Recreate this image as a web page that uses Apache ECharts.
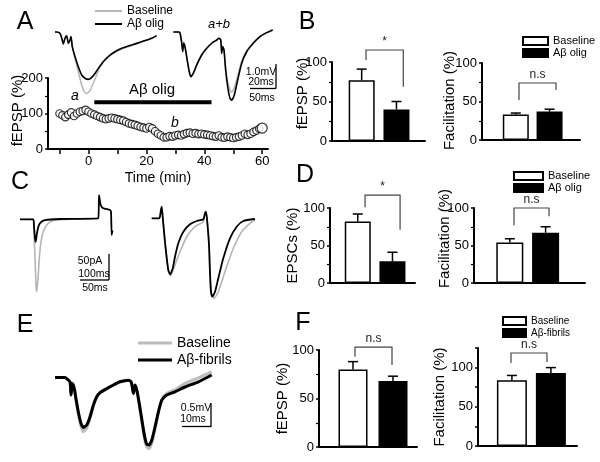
<!DOCTYPE html>
<html><head><meta charset="utf-8">
<script src="https://cdn.jsdelivr.net/npm/echarts@6/dist/echarts.min.js"></script>
<style>html,body{margin:0;padding:0;background:#fff}#c{width:600px;height:462px}</style>
</head><body><div id="c"></div><script>
const FONT = '"Liberation Sans", Arial, Helvetica, sans-serif';

// ---------- Panel A: time course (min, % fEPSP) ----------
const timeMin = [-10,-9,-8,-7,-6,-5,-4,-3,-2,-1,0,1,2,3,4,5,6,7,8,9,10,11,12,13,14,15,16,17,18,19,20,21,22,23,24,25,26,27,28,29,30,31,32,33,34,35,36,37,38,39,40,41,42,43,44,45,46,47,48,49,50,51,52,53,54,55,56,57,58,59,60];
const fepspPct = [100,95,90,97,103,93,100,105,107,110,
                  105,100,97,93,90,86,84,86,88,86,
                  84,82,80,76,72,70,68,65,62,60,
                  58,62,58,50,43,38,33,33,36,35,
                  38,40,38,42,45,46,43,45,42,43,
                  41,40,38,36,35,38,33,32,35,33,
                  31,33,35,38,43,40,43,48,52,57,59];
const abetaPeriod = [2, 42.5];   // min, application bar
const abetaBarLevel = 132;       // % level of the bar

// ---------- Panel A traces (ms, mV) ----------
const traceA1Gray = [[4.2,0],[5.6,0],[8.3,-0.06],[9.8,-0.27],[11.1,-0.52],[12.5,-0.27],[13.9,-0.17],[15.3,-0.49],[16.7,-0.35],[17.5,-0.2],[18.6,-0.67],[20.8,-1.13],[23.6,-1.73],[26.4,-2.3],[28.6,-2.6],[30.6,-2.67],[33.3,-2.55],[36.1,-2.23],[38.9,-1.87],[41.7,-1.51],[45.8,-1.22],[51.4,-0.93],[59.8,-0.74],[68.1,-0.59],[76.4,-0.43],[84.8,-0.28],[88.9,-0.17]];
const traceA1Black = [[4.2,0],[5.6,0],[8.3,-0.06],[9.8,-0.27],[11.1,-0.52],[12.5,-0.27],[13.9,-0.17],[15.3,-0.49],[16.7,-0.35],[17.5,-0.2],[18.6,-0.64],[20.8,-1.07],[23.6,-1.51],[26.4,-1.87],[29.2,-2.01],[31.9,-2.06],[34.8,-1.97],[37.5,-1.8],[40.3,-1.58],[44.4,-1.29],[48.6,-1.07],[54.2,-0.86],[59.8,-0.71],[68.1,-0.57],[76.4,-0.42],[84.8,-0.27],[88.9,-0.16]];
const traceABGray = [[102.8,0],[106.9,0],[108.3,-0.03],[109.8,-0.4],[110.6,-0.8],[111.4,-0.45],[112.5,-0.62],[113.9,-1.07],[115.8,-1.65],[117.3,-1.94],[119.4,-1.8],[122.3,-1.43],[126.4,-1.0],[130.6,-0.71],[134.8,-0.49],[138.9,-0.35],[140.8,-0.27],[142.3,-0.3],[143.1,-0.85],[143.9,-0.6],[145,-0.75],[146.4,-1.6],[148.1,-2.17],[150,-2.52],[151.4,-2.61],[153.6,-2.43],[156.4,-1.91],[159.8,-1.26],[163.9,-0.82],[169.4,-0.47],[175,-0.2],[180.6,-0.03],[185.6,0.09]];
const traceABBlack = [[102.8,0],[106.9,0],[108.3,-0.03],[109.8,-0.49],[110.6,-0.86],[111.4,-0.49],[112.5,-0.64],[113.9,-1.07],[115.8,-1.65],[117.3,-1.94],[119.4,-1.8],[122.3,-1.43],[126.4,-1.0],[130.6,-0.71],[134.8,-0.49],[138.9,-0.35],[140.8,-0.27],[142.3,-0.35],[143.1,-0.93],[143.9,-0.64],[145,-0.78],[146.4,-1.65],[148.1,-2.38],[150,-2.88],[151.4,-2.96],[153.6,-2.74],[156.4,-2.09],[159.8,-1.36],[163.9,-0.86],[169.4,-0.49],[175,-0.2],[180.6,-0.03],[185.6,0.09]];

// ---------- Panel C traces (ms, pA) ----------
const traceC1Gray = [[16.7,-1.7],[61,-1.7],[63.3,-28.7],[66.7,-86.5],[70,-144.6],[72.3,-159.1],[76.7,-130],[81,-86.5],[86.7,-50.4],[94.3,-28.7],[105.7,-14.1],[122.3,-5.4],[150,-2.6],[276.7,0]];
const traceC1Black = [[16.7,-1.7],[61,-1.7],[63.3,-17.8],[66.7,-43],[69,-50.4],[72.3,-35.9],[77.7,-17.8],[85.7,-8.3],[100,-3.3],[150,-1.1],[277.7,0.4],[280,51],[285.7,29.3],[294.3,22.2],[316.7,18.5],[320,14.8],[322.3,-35.9],[325,-26]];
const traceC2Gray = [[11.2,0.4],[23.8,0.4],[26.2,14.8],[27.8,25.7],[29.5,3.9],[31.7,-28.7],[35,-72.2],[38.8,-112],[42.8,-124.3],[50,-101],[58.3,-72.2],[69.5,-39.6],[83.3,-17.8],[97.2,-7],[100,11.3],[101.7,14.8],[103.8,-7],[106.7,-57.6],[108.3,-115.7],[110,-159.1],[115,-173.5],[122.2,-159.1],[133.3,-115.7],[147.2,-64.8],[161.2,-28.7],[175,-10.4],[183.3,-3.3]];
const traceC2Black = [[11.2,0.4],[23.8,0.4],[26.2,14.8],[27.8,25.7],[29.5,3.9],[31.7,-28.7],[35,-72.2],[38.8,-112],[41.7,-121.3],[46.2,-108.3],[50,-83],[55.5,-53.9],[63.8,-28.7],[75,-12.6],[86.2,-5.4],[97.2,-1.7],[100,11.3],[101.7,14.8],[103.8,-7],[106.7,-57.6],[108.3,-115.7],[110,-159.1],[112.2,-170],[116.7,-159.1],[122.2,-130],[130.5,-86.5],[141.7,-43],[152.8,-17.8],[163.8,-5.4],[183.3,-1.1]];

// ---------- Panel E traces (ms, mV) ----------
const traceEGray = [[2.8,0],[8.3,0],[9.3,-0.03],[11.1,-0.11],[11.7,-0.44],[12.4,-0.15],[13.5,-0.28],[14.4,-0.55],[15.7,-0.9],[17.2,-1.22],[18.5,-1.36],[20.4,-1.27],[22.2,-1.02],[24.1,-0.7],[25.9,-0.49],[27.8,-0.38],[31.5,-0.28],[35.2,-0.19],[38.9,-0.11],[43.5,-0.07],[45,-0.11],[45.7,-0.24],[46.3,-0.4],[47.2,-0.19],[48.2,-0.32],[49.4,-0.63],[50.9,-1.07],[52.4,-1.52],[53.7,-1.74],[55,-1.78],[56.5,-1.64],[58.3,-1.3],[60.2,-0.87],[62.1,-0.54],[64.8,-0.4],[69.4,-0.31],[75,-0.15],[82.4,-0.01],[89.8,0.14]];
const traceEBlack = [[2.8,0],[8.3,0],[9.3,-0.03],[11.1,-0.11],[11.7,-0.44],[12.4,-0.15],[13.5,-0.28],[14.4,-0.53],[15.7,-0.86],[17.2,-1.15],[18.5,-1.25],[20.4,-1.19],[22.2,-0.99],[24.1,-0.69],[25.9,-0.49],[27.8,-0.38],[31.5,-0.28],[35.2,-0.19],[38.9,-0.11],[43.5,-0.07],[45,-0.11],[45.7,-0.24],[46.3,-0.4],[47.2,-0.19],[48.2,-0.32],[49.4,-0.61],[50.9,-1.03],[52.4,-1.44],[53.7,-1.67],[55,-1.69],[56.5,-1.57],[58.3,-1.24],[60.2,-0.86],[62.1,-0.57],[64.8,-0.44],[69.4,-0.36],[75,-0.24],[82.4,-0.11],[89.8,0.06]];

// ---------- Bar panels (mean %, SEM) ----------
const condOlig = ['Baseline', 'Aβ olig'];
const condFib = ['Baseline', 'Aβ-fibrils'];
const bFepsp = [77, 40],  bFepspErr = [14, 10];
const bFacil = [33, 37],  bFacilErr = [2, 3];
const dEpsc  = [82, 29],  dEpscErr  = [10, 12];
const dFacil = [54, 67],  dFacilErr = [5, 8];
const fFepsp = [80, 68],  fFepspErr = [8, 5];
const fFacil = [84, 93],  fFacilErr = [6, 7];
// significance brackets: [xLeft, xRight, yLeftEnd, yTop, yRightEnd]
const sigB1 = [1.124, 2.196, 102.5, 115.2, 68.7], sigB1Text = '*';
const sigB2 = [1.095, 2.19, 52, 74, 65],      sigB2Text = 'n.s';
const sigD1 = [1.21, 2.22, 101, 117.3, 71],   sigD1Text = '*';
const sigD2 = [1.117, 2.095, 77, 100, 89],    sigD2Text = 'n.s';
const sigF1 = [1.05, 1.975, 93, 103, 84.5],   sigF1Text = 'n.s';
const sigF2 = [0.977, 1.9, 106, 118.6, 107],  sigF2Text = 'n.s';

// ================= build =================
const grids = [], xAxes = [], yAxes = [], series = [];
function addGrid(l, t, w, h) { grids.push({left: l, top: t, width: w, height: h}); return grids.length - 1; }
function hiddenAxes(gi, xmin, xmax, ymin, ymax) {
  xAxes.push({type: 'value', gridIndex: gi, min: xmin, max: xmax, show: false});
  yAxes.push({type: 'value', gridIndex: gi, min: ymin, max: ymax, show: false});
}
const axLine = {show: true, onZero: false, lineStyle: {color: '#000', width: 2}};
const tickLabel = {fontSize: 13, color: '#000', fontFamily: FONT, margin: 5};
function barAxes(gi, xmin, xmax, ymax, name, nameGap, shiftUp, opts) {
  xAxes.push({type: 'value', gridIndex: gi, min: xmin, max: xmax, axisLine: axLine,
    axisTick: {show: false}, axisLabel: {show: false}, splitLine: {show: false}});
  const y = {type: 'value', gridIndex: gi, min: 0, max: ymax, interval: 50,
    name: name, nameLocation: 'middle', nameGap: nameGap, nameRotate: 90, nameMoveOverlap: false,
    nameTextStyle: {fontSize: 15, color: '#000', fontFamily: FONT, padding: [0, 0, 0, 2 * shiftUp]},
    axisLine: axLine,
    axisTick: {show: true, length: 3, lineStyle: {color: '#000', width: 1.5}},
    minorTick: {show: true, splitNumber: 2, length: 3, lineStyle: {color: '#000', width: 1.2}},
    axisLabel: tickLabel,
    splitLine: {show: false}, minorSplitLine: {show: false}};
  Object.assign(y, opts || {});
  yAxes.push(y);
}
function errRender(params, api) {
  const x = api.value(0), v = api.value(1), e = api.value(2);
  const p0 = api.coord([x, v]), p1 = api.coord([x, v + e]);
  return {type: 'group', children: [
    {type: 'line', shape: {x1: p0[0], y1: p0[1], x2: p1[0], y2: p1[1]}, style: {stroke: '#000', lineWidth: 1.5}},
    {type: 'line', shape: {x1: p1[0] - 5, y1: p1[1], x2: p1[0] + 5, y2: p1[1]}, style: {stroke: '#000', lineWidth: 1.5}}
  ]};
}
function bracketRender(text) {
  return function (params, api) {
    const a = api.coord([api.value(0), api.value(2)]);
    const b = api.coord([api.value(0), api.value(3)]);
    const c = api.coord([api.value(1), api.value(3)]);
    const d = api.coord([api.value(1), api.value(4)]);
    return {type: 'group', children: [
      {type: 'polyline', shape: {points: [a, b, c, d]}, style: {stroke: '#444', lineWidth: 1.2, fill: null}},
      {type: 'text', x: (b[0] + c[0]) / 2, y: b[1] - 2,
        style: {text: text, fill: '#222', font: '12px ' + FONT, textAlign: 'center', textVerticalAlign: 'bottom', align: 'center', verticalAlign: 'bottom'}}
    ]};
  };
}
function addBars(gi, prefix, cond, vals, errs, barWidth, sig, sigText) {
  series.push({type: 'bar', name: prefix + cond[0], xAxisIndex: gi, yAxisIndex: gi, data: [[1, vals[0]]],
    barWidth: barWidth, barGap: '-100%', itemStyle: {color: '#fff', borderColor: '#000', borderWidth: 1.5}});
  series.push({type: 'bar', name: prefix + cond[1], xAxisIndex: gi, yAxisIndex: gi, data: [[2, vals[1]]],
    barWidth: barWidth, barGap: '-100%', itemStyle: {color: '#000', borderColor: '#000', borderWidth: 1.5}});
  series.push({type: 'custom', xAxisIndex: gi, yAxisIndex: gi, renderItem: errRender, clip: false, z: 3,
    data: [[1, vals[0], errs[0]], [2, vals[1], errs[1]]]});
  series.push({type: 'custom', xAxisIndex: gi, yAxisIndex: gi, renderItem: bracketRender(sigText), clip: false, z: 4,
    data: [sig]});
}
function addTrace(gi, name, data, color, width, z) {
  series.push({type: 'line', name: name, xAxisIndex: gi, yAxisIndex: gi, data: data, showSymbol: false, symbol: 'none',
    color: color, lineStyle: {color: color, width: width}, smooth: 0.2, z: z, silent: true});
}

// grid 0: A time course
const gA = addGrid(48, 78, 220, 71);
xAxes.push({type: 'value', gridIndex: gA, min: -14, max: 62, axisLine: axLine,
  axisTick: {show: true, length: 5, customValues: [-10,0,10,20,30,40,50,60], lineStyle: {color: '#000', width: 1.5}},
  axisLabel: {customValues: [0,20,40,60], fontSize: 13, color: '#000', fontFamily: FONT, margin: 6},
  splitLine: {show: false}, name: 'Time (min)', nameLocation: 'middle', nameGap: 22, nameMoveOverlap: false,
  nameTextStyle: {fontSize: 14, color: '#000', fontFamily: FONT}});
yAxes.push({type: 'value', gridIndex: gA, min: 0, max: 200, interval: 100, axisLine: axLine,
  axisTick: {show: true, length: 3, lineStyle: {color: '#000', width: 1.5}},
  minorTick: {show: true, splitNumber: 2, length: 3, lineStyle: {color: '#000', width: 1.2}},
  axisLabel: tickLabel, splitLine: {show: false},
  name: 'fEPSP (%)', nameLocation: 'middle', nameGap: 23, nameRotate: 90, nameMoveOverlap: false,
  nameTextStyle: {fontSize: 15, color: '#000', fontFamily: FONT, padding: [0, 0, 0, 6]}});
series.push({type: 'line', xAxisIndex: gA, yAxisIndex: gA, data: abetaPeriod.map(t => [t, abetaBarLevel]),
  symbol: 'none', lineStyle: {color: '#000', width: 4}, color: '#000', silent: true});
series.push({type: 'scatter', xAxisIndex: gA, yAxisIndex: gA, symbol: 'circle', symbolSize: 7.5,
  itemStyle: {color: '#fff', borderColor: '#000', borderWidth: 1.2},
  data: timeMin.map((t, i) => i === timeMin.length - 1 ? {value: [t, fepspPct[i]], symbolSize: 10} : [t, fepspPct[i]]), z: 3});

// grid 1: A traces
const gAt = addGrid(50, 20, 230, 90);
hiddenAxes(gAt, 0, 191.7, -3.39, 0.52);
addTrace(gAt, 'A_Baseline', traceA1Gray, '#b5b5b5', 1.5, 2);
addTrace(gAt, 'A_ab_gray', traceABGray, '#b5b5b5', 1.5, 2);
addTrace(gAt, 'A_Abeta', traceA1Black, '#000', 1.6, 3);
addTrace(gAt, 'A_ab_black', traceABBlack, '#000', 1.6, 3);

// grid 2,3: B
const gB1 = addGrid(332, 62, 93, 79);
barAxes(gB1, 0.147, 2.82, 100, 'fEPSP (%)', 22, 8);
addBars(gB1, 'B_', condOlig, bFepsp, bFepspErr, 26, sigB1, sigB1Text);
const gB2 = addGrid(482, 63, 98, 77);
barAxes(gB2, 0, 2.9, 100, 'Facilitation (%)', 25, 1);
addBars(gB2, 'B2_', condOlig, bFacil, bFacilErr, 26, sigB2, sigB2Text);

// grid 4,5: C traces
const gC1 = addGrid(15, 185, 105, 120);
hiddenAxes(gC1, 0, 350, -188, 72.8);
addTrace(gC1, 'C1g', traceC1Gray, '#b5b5b5', 1.6, 2);
addTrace(gC1, 'C1b', traceC1Black, '#000', 1.8, 3);
const gC2 = addGrid(145, 185, 115, 120);
hiddenAxes(gC2, 0, 191.7, -188, 72.8);
addTrace(gC2, 'C2g', traceC2Gray, '#b5b5b5', 1.6, 2);
addTrace(gC2, 'C2b', traceC2Black, '#000', 1.8, 3);

// grid 6,7: D
const gD1 = addGrid(330, 208, 85, 75);
barAxes(gD1, 0.2, 2.65, 100, 'EPSCs (%)', 30, 0);
addBars(gD1, 'D_', condOlig, dEpsc, dEpscErr, 26, sigD1, sigD1Text);
const gD2 = addGrid(474, 208, 111, 75);
barAxes(gD2, 0, 3.1, 100, 'Facilitation (%)', 22, 7);
addBars(gD2, 'D2_', condOlig, dFacil, dFacilErr, 27, sigD2, sigD2Text);

// grid 8: E traces
const gE = addGrid(50, 365, 170, 90);
hiddenAxes(gE, 0, 94.4, -1.94, 0.31);
addTrace(gE, 'E_Baseline', traceEGray, '#bdbdbd', 3, 2);
addTrace(gE, 'E_Abeta', traceEBlack, '#000', 3, 3);

// grid 9,10: F
const gF1 = addGrid(319, 350, 98, 97);
barAxes(gF1, 0.15, 2.6, 100, 'fEPSP (%)', 29, 0);
addBars(gF1, 'F_', condFib, fFepsp, fFepspErr, 29, sigF1, sigF1Text);
const gF2 = addGrid(478, 348, 99, 98);
barAxes(gF2, 0.13, 2.67, 125, 'Facilitation (%)', 31, 0, {interval: 25,
  axisLabel: Object.assign({customValues: [0, 50, 100]}, tickLabel),
  minorTick: {show: false}});
addBars(gF2, 'F2_', condFib, fFacil, fFacilErr, 30, sigF2, sigF2Text);

const legendText = {'A_Baseline': 'Baseline', 'A_Abeta': 'Aβ olig', 'B_Baseline': 'Baseline', 'B_Aβ olig': 'Aβ olig',
  'D2_Baseline': 'Baseline', 'D2_Aβ olig': 'Aβ olig', 'E_Baseline': 'Baseline', 'E_Abeta': 'Aβ-fibrils',
  'F2_Baseline': 'Baseline', 'F2_Aβ-fibrils': 'Aβ-fibrils'};
function legend(names, left, top, w, h, fs, lh) {
  return {data: names, left: left, top: top, orient: 'vertical', padding: 0, itemGap: 0, itemWidth: w, itemHeight: h,
    icon: 'rect', selectedMode: false, formatter: n => legendText[n],
    textStyle: {fontSize: fs, lineHeight: lh, color: '#000', fontFamily: FONT}};
}

function txt(x, y, s, size, extra) {
  return Object.assign({type: 'text', x: x, y: y, silent: true,
    style: Object.assign({text: s, fill: '#000', font: size + 'px ' + FONT, textAlign: 'center', textVerticalAlign: 'middle', align: 'center', verticalAlign: 'middle'}, extra || {})});
}
function ln(x1, y1, x2, y2, w) {
  return {type: 'line', silent: true, shape: {x1: x1, y1: y1, x2: x2, y2: y2}, style: {stroke: '#000', lineWidth: w || 1.3}};
}
const graphics = [
  txt(25, 22, 'A', 25), txt(307, 22, 'B', 25), txt(20, 182, 'C', 25),
  txt(305, 175, 'D', 25), txt(25, 325, 'E', 25), txt(303, 323, 'F', 25),
  txt(75, 96, 'a', 14, {font: 'italic 14px ' + FONT}),
  txt(175, 123, 'b', 14, {font: 'italic 14px ' + FONT}),
  txt(219, 24, 'a+b', 13, {font: 'italic 13px ' + FONT}),
  txt(152, 90, 'Aβ olig', 15),
  // scale bar A
  txt(261, 72, '1.0mV', 10.5), txt(261, 82, '20ms', 10.5), txt(262, 98, '50ms', 10.5),
  ln(276, 64, 276, 88.5), ln(250, 88.5, 276, 88.5),
  // scale bar C
  txt(90, 261, '50pA', 10.5), txt(94, 274, '100ms', 10.5), txt(95, 288, '50ms', 10.5),
  ln(109, 254, 109, 280), ln(80, 280, 109, 280),
  // scale bar E
  txt(196, 408, '0.5mV', 10.5), txt(193, 419, '10ms', 10.5),
  ln(211, 403, 211, 427), ln(182, 426.5, 211, 426.5)
];

const chart = echarts.init(document.getElementById('c'), null, {renderer: 'canvas'});
chart.setOption({
  animation: false,
  backgroundColor: '#fff',
  textStyle: {fontFamily: FONT},
  grid: grids, xAxis: xAxes, yAxis: yAxes, series: series,
  legend: [
    legend(['A_Baseline', 'A_Abeta'], 95, 4.5, 27, 2, 12, 13),
    legend(['B_Baseline', 'B_Aβ olig'], 522, 35, 25, 8, 11, 12),
    legend(['D2_Baseline', 'D2_Aβ olig'], 513, 170, 29, 8, 11, 12),
    legend(['E_Baseline', 'E_Abeta'], 138, 334.5, 34, 3, 14, 17),
    legend(['F2_Baseline', 'F2_Aβ-fibrils'], 502, 315, 23, 8, 10, 12)
  ],
  graphic: graphics
});
</script></body></html>
